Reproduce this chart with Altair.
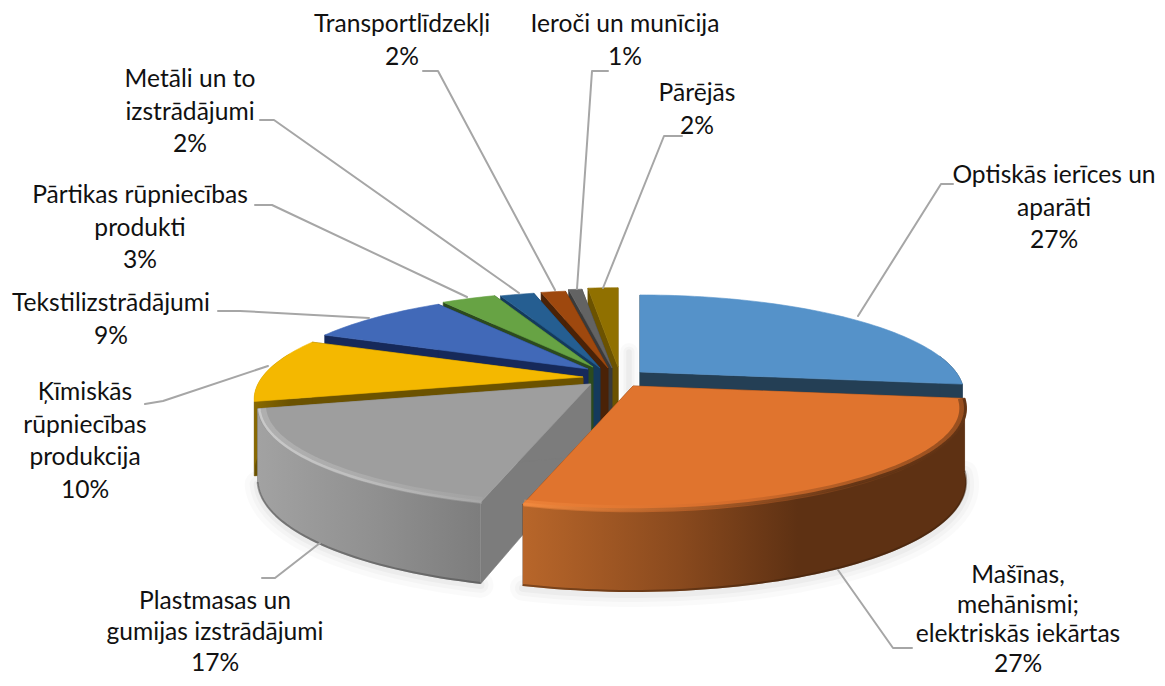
import math
import altair as alt
import pandas as pd

# ---- data ----
categories = ["Optiskās ierīces un\naparāti", "Mašīnas,\nmehānismi;\nelektriskās iekārtas",
              "Plastmasas un\ngumijas izstrādājumi", "Ķīmiskās\nrūpniecības\nprodukcija",
              "Tekstilizstrādājumi", "Pārtikas rūpniecības\nprodukti", "Metāli un to\nizstrādājumi",
              "Transportlīdzekļi", "Ieroči un munīcija", "Pārējās"]
values = [27.0, 27.3, 16.8, 10.4, 8.9, 3.4, 2.1, 1.5, 0.8, 1.8]

# ---- styling / layout ----
top_colors = ["#5592c9", "#e0742e", "#9e9e9e", "#f4b800", "#4169b8", "#67a344", "#255e91", "#9e480e", "#636363", "#907000"]
side_colors = ["#243f55", "#5e3113", "#7c7c7c", "#6b5200", "#16295a", "#2c4a1e", "#143a5c", "#4a2207", "#3a3a3a", "#6b5200"]
apex = [(640, 372), (633, 386), (590.7, 384), (583, 377), (588, 369), (593, 367), (600, 368), (608, 368), (612, 368), (618, 367)]
radius = [0.972, 1.0, 1.0, 0.987, 0.96, 0.96, 0.97, 0.98, 1.0, 1.0]
label_pos = [(1054, 176), (1018, 576), (215, 602), (85, 393), (111, 304), (140, 196), (190, 80), (402, 25), (625, 25), (697, 94)]
label_lh = [32.5, 29.5, 31, 32.5, 32.5, 32.5, 32.5, 32.5, 32.5, 32.5]
leaders = [[(953, 184), (941, 184), (858, 316)], [(912, 648), (893, 648), (838, 570)], [(262, 578), (275, 578), (320, 543)],
           [(145, 404), (163, 401), (268, 366)], [(218, 311), (240, 311), (369, 318)], [(255, 205), (272, 205), (467, 297)],
           [(260, 120), (274, 120), (519, 293)], [(423, 71), (438, 71), (555, 290)], [(608, 71), (592, 71), (577, 289)],
           [(682, 136), (664, 136), (603, 288)]]
R, RY, K = 325, 96.7, 0.22
FONT, FS = "Lato", 24.6
W, H = 1149, 670
XS = alt.Scale(domain=[8, 8 + W], range=[0, W], nice=False, zero=False)
YS = alt.Scale(domain=[8, 8 + H], range=[0, H], nice=False, zero=False)

layers = []

def wall(v):
    return 72 + 10 * max(v, 0)

def rim(i, deg, rad=1.0, down=False, extra=0):
    t = math.radians(deg)
    u, v = math.sin(t), -math.cos(t)
    s = 1 / (1 - K * v)
    ax, ay = apex[i]
    rad = rad * radius[i]
    y = ay + RY * rad * v * s
    if down:
        y += wall(v) + extra
    return ax + R * rad * u * s, y

def arc(i, a, b, rad=1.0, down=False, extra=0, n=None):
    n = n or max(2, int(abs(b - a) / 1.5) + 1)
    return [rim(i, a + (b - a) * j / (n - 1), rad, down, extra) for j in range(n)]

def xy(points):
    return pd.DataFrame({"x": [p[0] for p in points], "y": [p[1] for p in points], "o": range(len(points))})

def enc(chart):
    return chart.encode(x=alt.X("x:Q", scale=XS, axis=None), y=alt.Y("y:Q", scale=YS, axis=None),
                        order=alt.Order("o:Q"))

def poly(points, fill):
    stroke = fill if isinstance(fill, str) else "#00000000"
    layers.append(enc(alt.Chart(xy(points + points[:1])).mark_line(fill=fill, stroke=stroke, strokeWidth=0.6,
                                                                   interpolate="linear")))

def line(points, stroke, width, opacity=1.0, cap="round"):
    layers.append(enc(alt.Chart(xy(points)).mark_line(stroke=stroke, strokeWidth=width, opacity=opacity,
                                                      strokeCap=cap, strokeJoin="round")))

def grad(stops):
    return alt.Gradient(gradient="linear", x1=0, x2=1, y1=0, y2=0,
                        stops=[alt.GradientStop(offset=o, color=c) for o, c in stops])

edges, c = [], 0.0
for v_ in values:
    edges.append((c * 3.6, (c + v_) * 3.6))
    c += v_

# soft shadows beneath the pie
for w_, op in [(26, 0.018), (16, 0.022), (8, 0.03)]:
    a, b = edges[1]
    line([(p[0], p[1] + 2) for p in arc(1, a, b, down=True)], "#000000", w_, op)
    a, b = edges[2]
    line([(p[0], p[1] + 1) for p in arc(2, a, b, down=True)], "#000000", w_, op)
    line([(629, 352), (629, 392)], "#000000", w_ * 0.7, op)

wall_fill = {1: grad([(0, "#b8662a"), (0.35, "#8a4a1e"), (0.62, "#5e3113"), (1, "#5e3113")]),
             2: grad([(0, "#a2a2a2"), (0.55, "#8f8f8f"), (1, "#7d7d7d")]),
             3: grad([(0, "#8a6a00"), (1, "#6b5200")])}

for i in [9, 8, 7, 6, 5, 4, 3, 2, 0, 1]:
    a, b = edges[i]
    ax, ay = apex[i]
    # radial side walls
    h0 = 72
    for e in (a, b):
        poly([(ax, ay), rim(i, e), rim(i, e, down=True), (ax, ay + h0)], side_colors[i])
    # outer wall for the part facing the viewer
    lo = max(a, 80 if a < 180 else a)
    hi = min(b, 285)
    if hi > lo:
        poly(arc(i, lo, hi) + arc(i, hi, lo, down=True), wall_fill.get(i, side_colors[i]))
    # top face
    poly([(ax, ay)] + arc(i, a, b), top_colors[i])

# bevel along the front rims and dark bottom edges
a, b = edges[2]
line(arc(2, a, b, 0.985), grad([(0, "#c4c4c4"), (0.4, "#bdbdbd"), (1, "#a8a8a8")]), 7, 0.45, "butt")
line(arc(2, a, b, 0.995), grad([(0, "#d0d0d0"), (0.4, "#c4c4c4"), (1, "#a8a8a8")]), 2.5, 0.8, "butt")
line(arc(2, a, b, down=True, extra=-1), "#4a4a4a", 2, 0.5, "butt")
a, b = edges[1]
line(arc(1, a, b, 0.99), grad([(0, "#f58b3f"), (0.45, "#d0692a"), (0.8, "#7a4019"), (1, "#5e3113")]), 7, 0.55, "butt")
line(arc(1, a, b, 0.998), grad([(0, "#f58b3f"), (0.4, "#a65a26"), (0.75, "#5e3113"), (1, "#5e3113")]), 3, 0.9, "butt")
line(arc(1, a, b, down=True, extra=-1), "#3a1e0c", 2, 0.45, "butt")

# leader lines
for pts in leaders:
    line(pts, "#a6a6a6", 2)

# labels
rows = []
for cat, val, (lx, ly), lh in zip(categories, values, label_pos, label_lh):
    for j, t in enumerate(cat.split("\n") + [f"{val:.0f}%"]):
        rows.append({"t": t, "x": lx, "y": ly + j * lh})
layers.append(alt.Chart(pd.DataFrame(rows)).mark_text(font=FONT, fontSize=FS, color="#111111", align="center",
                                                      baseline="middle").encode(
    x=alt.X("x:Q", scale=XS, axis=None), y=alt.Y("y:Q", scale=YS, axis=None), text="t:N"))

chart = alt.layer(*layers).properties(width=W, height=H, padding=0,
                                      autosize=alt.AutoSizeParams(type="none"),
                                      background="#ffffff").configure_view(stroke=None)
chart.save("out.html", embed_options={"renderer": "svg", "actions": False})
